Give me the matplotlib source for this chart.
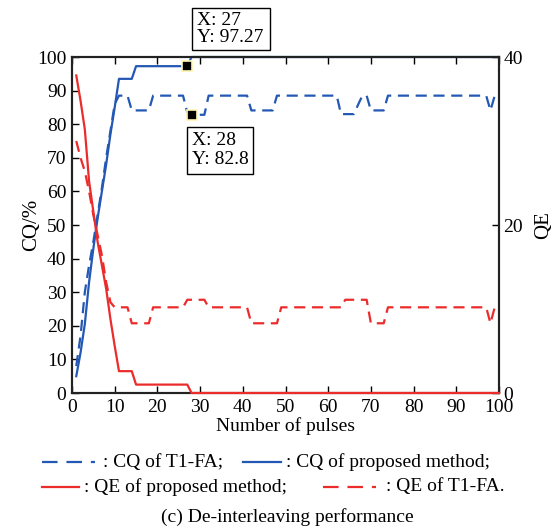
import matplotlib
matplotlib.use('Agg')
import matplotlib.pyplot as plt
from matplotlib.patches import Rectangle
import numpy as np

plt.rcParams['font.family'] = ['Liberation Serif', 'DejaVu Serif']
plt.rcParams['font.size'] = 14

# data (pulse index 1..100)
pulses = np.arange(1, 101)

cq_proposed = ([5, 12, 20.5, 33, 43, 52, 60, 68, 77, 85] + [93.5] * 4 +
               [97.27] * 13 + [100] * 73)
cq_t1fa = ([8, 17, 30, 38, 45, 53, 61, 70, 78, 86] + [88.5] * 3 + [84.1] * 5 +
           [88.5] * 8 + [83.5] + [82.8] * 4 + [88.5] * 10 + [84.1] * 6 +
           [88.5] * 15 + [83.0] * 4 + [85.8] + [88.5] * 2 + [84.1] * 4 +
           [88.5] * 24 + [84.1] + [88.5] * 2)
qe_proposed = ([37.8, 34.8, 31.4, 25.2, 21.6, 18.0, 15.2, 12.4, 8.8, 5.6] +
               [2.6] * 4 + [1.0] * 13 + [0] * 73)
qe_t1fa = ([30.0, 28.0, 26.4, 24.0, 21.2, 18.8, 16.4, 13.2, 10.8] + [10.2] * 4 +
           [8.3] * 5 + [10.2] * 8 + [11.1] * 5 + [10.2] * 10 + [8.3] * 7 +
           [10.2] * 15 + [11.1] * 6 + [8.3] * 4 + [10.2] * 24 + [8.3] + [10.2] * 2)

tips = [(27, 97.27), (28, 82.8)]

blue = '#2358b4'
red = '#ec2b2b'

W, H = 554, 530
fig = plt.figure(figsize=(W / 100, H / 100), dpi=100)
ax = fig.add_axes([72 / W, 1 - 393 / H, (499 - 72) / W, (393 - 57) / H])
ax2 = ax.twinx()

ax.plot(pulses, cq_t1fa, color=blue, lw=1.6, dashes=(5, 3), zorder=3)
ax.plot(pulses, cq_proposed, color=blue, lw=1.6, zorder=3, clip_on=False)
ax2.plot(pulses, qe_proposed, color=red, lw=1.6, zorder=3, clip_on=False)
ax2.plot(pulses, qe_t1fa, color=red, lw=1.6, dashes=(5, 3), zorder=3)

for tx, ty in tips:
    ax.plot(tx, ty, 's', color='black', markersize=7, markeredgecolor='#fff6b0',
            markeredgewidth=1.2, zorder=5, clip_on=False)

ax.set_xlim(0, 100)
ax.set_ylim(0, 100)
ax2.set_ylim(0, 40)
ax.set_xticks(np.arange(0, 101, 10))
ax.set_yticks(np.arange(0, 101, 10))
ax2.set_yticks([0, 20, 40])
ax.tick_params(direction='in', length=5, width=1, top=True, right=False, pad=4)
ax2.tick_params(direction='in', length=5, width=1, pad=3)
for a in (ax, ax2):
    for s in a.spines.values():
        s.set_linewidth(1.5)
        s.set_color('#222222')

ax.set_ylabel('CQ/%', fontsize=15, labelpad=-3)
ax2.set_ylabel('QE', fontsize=15, labelpad=8)
ax.set_xlabel('Number of pulses', labelpad=1)

# overlay in pixel coords for data tips and legend
ov = fig.add_axes([0, 0, 1, 1], zorder=10)
ov.set_xlim(0, W)
ov.set_ylim(H, 0)
ov.axis('off')
ov.patch.set_alpha(0)

# data tip boxes
ov.add_patch(Rectangle((192, 8), 78, 42, facecolor='white', edgecolor='black', lw=1))
ov.text(197, 29, 'X: %d\nY: %.2f' % tips[0], ha='left', va='center', fontsize=14,
        linespacing=1.05)
ov.add_patch(Rectangle((187, 127), 66, 47, facecolor='white', edgecolor='black', lw=1))
ov.text(192, 150, 'X: %d\nY: %.1f' % tips[1], ha='left', va='center', fontsize=14,
        linespacing=1.1)

# legend rows
y1, y2 = 462, 487
ov.plot([42, 95], [y1, y1], color=blue, lw=1.6, dashes=(7, 4))
ov.text(103, y1, ': CQ of T1-FA;', va='center', ha='left', fontsize=14)
ov.plot([243, 281], [y1, y1], color=blue, lw=1.6)
ov.text(286, y1, ': CQ of proposed method;', va='center', ha='left', fontsize=14)
ov.plot([42, 79], [y2, y2], color=red, lw=1.6)
ov.text(84, y2, ': QE of proposed method;', va='center', ha='left', fontsize=14)
ov.plot([323, 376], [y2, y2], color=red, lw=1.6, dashes=(7, 4))
ov.text(386, y2, ': QE of T1-FA.', va='center', ha='left', fontsize=14)
ov.text(287, 517, '(c) De-interleaving performance', va='center', ha='center', fontsize=14)

fig.savefig('out.png', dpi=100, facecolor='white')
